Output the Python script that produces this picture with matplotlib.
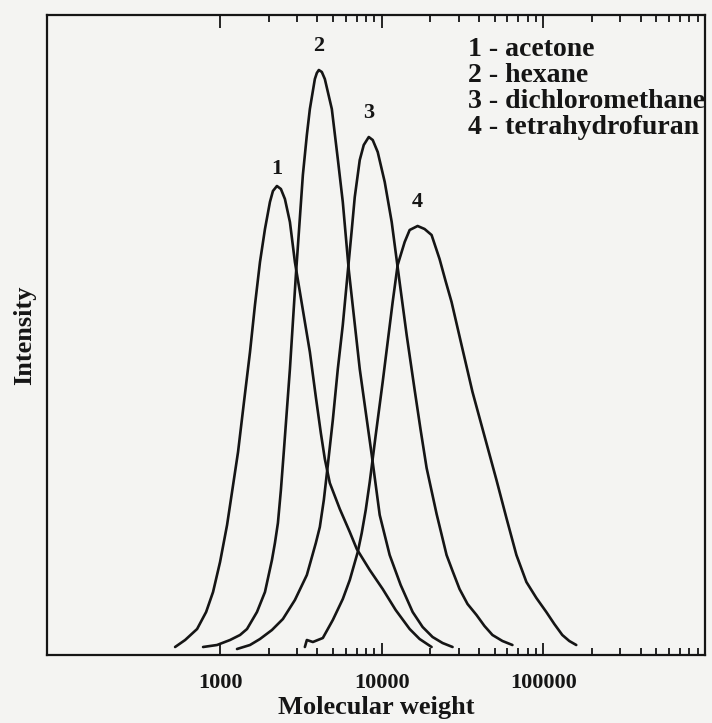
import numpy as np
import matplotlib.pyplot as plt
import matplotlib.ticker as ticker

plt.rcParams['font.family'] = ['Liberation Serif', 'DejaVu Serif']
plt.rcParams['font.weight'] = 'bold'
plt.rcParams['axes.labelweight'] = 'bold'

# curves (molecular weight, intensity in arbitrary units)
acetone_mw = [527, 608, 721, 820, 905, 1000, 1105, 1186, 1292, 1406, 1532, 1644,
              1766, 1896, 2035, 2124, 2248, 2379, 2519, 2705, 2904, 3118, 3347, 3594,
              3913, 4202, 4448, 4775, 5505, 6346, 7011, 8434, 10140, 12200, 14890,
              17160, 20350]
acetone_int = [8, 15, 26, 43, 63, 93, 130, 163, 203, 253, 303, 350,
               393, 426, 453, 464, 469, 466, 456, 433, 393, 363, 333, 303,
               258, 222, 196, 172, 146, 123, 106, 85, 66, 45, 26,
               16, 8]

hexane_mw = [785, 958, 1153, 1329, 1468, 1692, 1896, 2094, 2185, 2280, 2379, 2484,
             2705, 2945, 3253, 3443, 3594, 3859, 3969, 4084, 4262, 4448, 4914, 5351,
             5745, 6256, 6813, 7314, 7965, 8677, 9720, 11200, 13100, 15540, 17910,
             20640, 23790, 27440]
hexane_int = [8, 10, 15, 20, 26, 43, 63, 95, 112, 132, 165, 205,
              286, 380, 480, 520, 546, 576, 582, 585, 583, 576, 546, 496,
              453, 385, 331, 286, 243, 200, 140, 100, 70, 43, 28,
              18, 12, 8]

dcm_mw = [1273, 1532, 1766, 2094, 2448, 2904, 3443, 3913, 4142, 4385, 4642, 4984,
          5351, 5745, 6167, 6527, 6813, 7314, 7743, 8316, 8799, 9447, 10440, 11530,
          12380, 13100, 14270, 15990, 17410, 18960, 21860, 25190, 27440, 30300,
          33960, 38590, 43230, 48440, 55840, 64370]
dcm_int = [6, 10, 16, 25, 36, 55, 80, 112, 128, 155, 190, 235,
           286, 330, 383, 425, 458, 495, 510, 518, 515, 503, 473, 433,
           395, 365, 320, 265, 225, 187, 141, 100, 84, 66,
           51, 40, 29, 20, 14, 10]

thf_mw = [3347, 3443, 3752, 4323, 4984, 5745, 6346, 7111, 7524, 7965, 8434, 9183,
          10140, 11690, 12550, 13870, 14890, 16680, 18420, 20350, 22800, 24840,
          27050, 31180, 36450, 43230, 51280, 59100, 68130, 78550, 90540, 104300,
          116900, 131000, 144700, 159800]
thf_int = [8, 15, 13, 17, 35, 56, 75, 103, 122, 145, 173, 220,
           273, 353, 390, 413, 425, 429, 426, 420, 396, 374,
           353, 310, 263, 219, 175, 137, 100, 73, 57, 43,
           31, 20, 14, 10]

curve_ids = ['1', '2', '3', '4']
legend_lines = ['1 - acetone', '2 - hexane', '3 - dichloromethane', '4 - tetrahydrofuran']
major_ticks = [1000, 10000, 100000]
major_labels = ['1000', '10000', '100000']

ink = '#151515'
paper = '#f4f4f2'

fig = plt.figure(figsize=(7.12, 7.23), dpi=100, facecolor=paper)
ax = fig.add_axes([47/712, 68/723, 658/712, 640/723], facecolor=paper)

series = [(acetone_mw, acetone_int), (hexane_mw, hexane_int),
          (dcm_mw, dcm_int), (thf_mw, thf_int)]
label_gap = [17, 24, 24, 24]
for (mw, inten), cid, gap in zip(series, curve_ids, label_gap):
    ax.plot(mw, inten, color=ink, lw=1.9, solid_capstyle='round', solid_joinstyle='round')
    k = int(np.argmax(inten))
    ax.annotate(cid, xy=(mw[k], inten[k]), xytext=(0, gap), textcoords='offset pixels',
                ha='center', va='center', fontsize=16, color=ink)

ax.set_xscale('log')
ax.set_xlim(85, 1.0e6)
ax.set_ylim(0, 640)

ax.xaxis.set_major_locator(ticker.FixedLocator(major_ticks))
ax.xaxis.set_major_formatter(ticker.FixedFormatter(major_labels))
minor = [m * d for d in major_ticks for m in range(2, 10)]
ax.xaxis.set_minor_locator(ticker.FixedLocator(minor))
ax.xaxis.set_minor_formatter(ticker.NullFormatter())
ax.tick_params(axis='x', which='both', direction='in', top=True, bottom=True,
               color=ink, width=1.3)
ax.tick_params(axis='x', which='major', length=9, pad=13, labelsize=16, labelcolor=ink)
ax.tick_params(axis='x', which='minor', length=5)
ax.set_yticks([])

for s in ax.spines.values():
    s.set_linewidth(1.6)
    s.set_color(ink)

ax.set_xlabel('Molecular weight', fontsize=19, color=ink, labelpad=2)
ax.set_ylabel('Intensity', fontsize=19, color=ink, labelpad=8)

for i, line in enumerate(legend_lines):
    ax.text(0.640, 0.946 - i * 0.0405, line, transform=ax.transAxes,
            ha='left', va='center', fontsize=20, color=ink, clip_on=True)

fig.savefig('out.png', dpi=100, facecolor=paper)
